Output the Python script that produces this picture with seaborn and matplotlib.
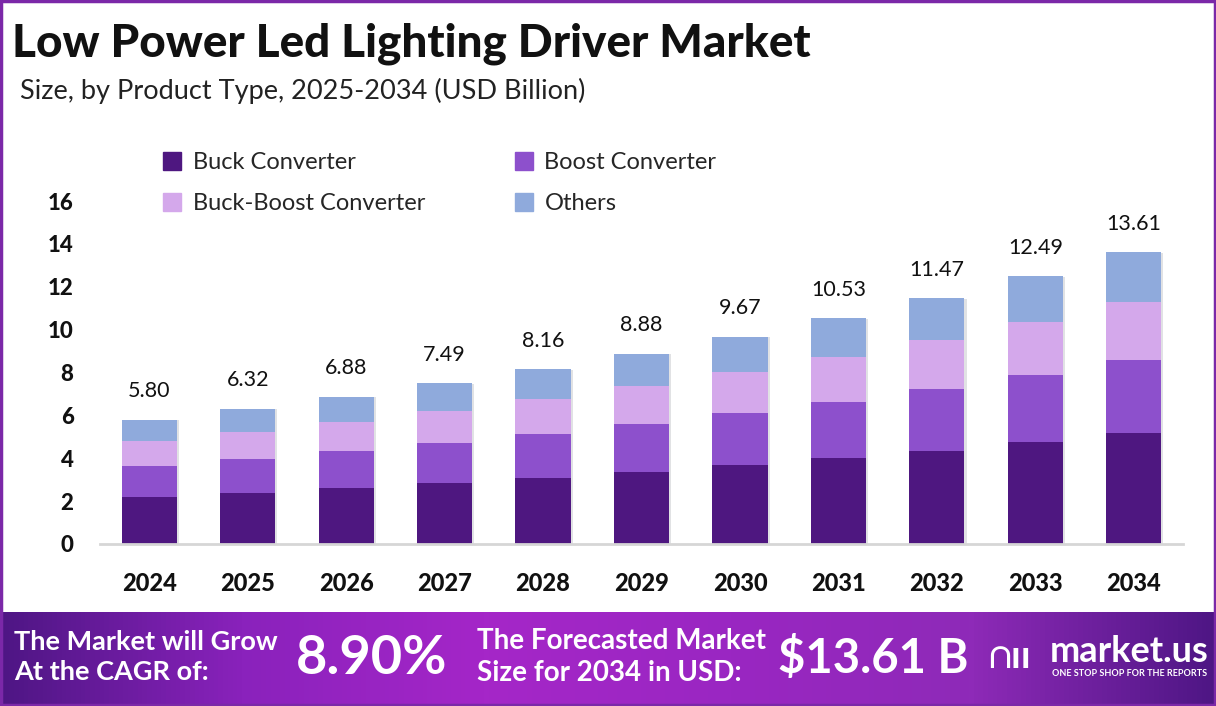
import numpy as np
import pandas as pd
import matplotlib
matplotlib.use("Agg")
import matplotlib.pyplot as plt
import matplotlib.patheffects as pe
from matplotlib.colors import LinearSegmentedColormap
from matplotlib.patches import Rectangle
import seaborn as sns

years = ["2024", "2025", "2026", "2027", "2028", "2029", "2030", "2031", "2032", "2033", "2034"]
totals = [5.80, 6.32, 6.88, 7.49, 8.16, 8.88, 9.67, 10.53, 11.47, 12.49, 13.61]
buck = [2.20, 2.40, 2.61, 2.85, 3.10, 3.37, 3.67, 4.00, 4.36, 4.75, 5.17]
boost = [1.45, 1.58, 1.72, 1.87, 2.04, 2.22, 2.42, 2.63, 2.87, 3.12, 3.40]
buck_boost = [1.16, 1.26, 1.38, 1.50, 1.63, 1.78, 1.93, 2.11, 2.29, 2.50, 2.72]
others = [0.99, 1.08, 1.17, 1.27, 1.39, 1.51, 1.65, 1.79, 1.95, 2.12, 2.32]

segments = ["Buck Converter", "Boost Converter", "Buck-Boost Converter", "Others"]
colors = ["#4E1780", "#8D50CC", "#D4A8EB", "#8FAADC"]

sns.set_theme(style="white")
plt.rcParams["font.family"] = ["Lato", "DejaVu Sans"]

df = pd.DataFrame({"year": years, "Buck Converter": buck, "Boost Converter": boost,
                   "Buck-Boost Converter": buck_boost, "Others": others})
cum = df[segments].cumsum(axis=1)

fig = plt.figure(figsize=(12.16, 7.06), dpi=100)
ax = fig.add_axes([100 / 1216, 1 - 544 / 706, 1083 / 1216, 343 / 706])

handles = {}
# draw cumulative heights from the top layer down so the stack shows
for i in range(len(segments) - 1, -1, -1):
    seg = segments[i]
    sns.barplot(x=df["year"], y=cum[seg], color=colors[i], width=0.56,
                saturation=1, ax=ax, zorder=2)
    bars = ax.patches[-len(years):]
    for b in bars:
        b.set_edgecolor("none")
        if i == len(segments) - 1:
            b.set_path_effects([pe.SimplePatchShadow(offset=(1.5, -0.5), alpha=0.14), pe.Normal()])
    handles[seg] = Rectangle((0, 0), 1, 1, color=colors[i])

for x, t in enumerate(totals):
    ax.text(x, t + 0.85, f"{t:.2f}", ha="center", va="bottom", fontsize=15.5, color="#111111")

ax.set_xlim(-0.5, 10.5)
ax.set_ylim(0, 16)
ax.set_yticks(range(0, 17, 2))
ax.set_xlabel("")
ax.set_ylabel("")
for s in ["top", "right", "left"]:
    ax.spines[s].set_visible(False)
ax.spines["bottom"].set_color("#D6D6D6")
ax.spines["bottom"].set_linewidth(2)
ax.tick_params(axis="y", length=0, pad=19, labelsize=16)
ax.tick_params(axis="x", length=0, pad=20, labelsize=17)
for lab in ax.get_xticklabels() + ax.get_yticklabels():
    lab.set_fontweight("black")
    lab.set_color("#111111")

order = ["Buck Converter", "Buck-Boost Converter", "Boost Converter", "Others"]
fig.legend([handles[k] for k in order], order, ncol=2, loc="upper left",
           bbox_to_anchor=(142 / 1216, 1 - 131 / 706), frameon=False, fontsize=17,
           handlelength=0.75, handleheight=0.75, handletextpad=0.5,
           columnspacing=3.8, labelspacing=0.85)

fig.text(12 / 1216, 1 - 44 / 706, "Low Power Led Lighting Driver Market", fontsize=33,
         fontweight="black", va="center", ha="left", color="#111111")
fig.text(20 / 1216, 1 - 91 / 706, "Size, by Product Type, 2025-2034 (USD Billion)", fontsize=19.5,
         va="center", ha="left", color="#222222")

# bottom banner with purple gradient
bax = fig.add_axes([0, 0, 1, 94 / 706])
cmap = LinearSegmentedColormap.from_list("banner", ["#4E1684", "#8A22BC", "#A526C8", "#9A26C2", "#8E2AB8", "#4E1684"])
bax.imshow(np.linspace(0, 1, 256).reshape(1, -1), aspect="auto", cmap=cmap, extent=(0, 1, 0, 1))
bax.set_axis_off()

bold = dict(color="white", fontweight="bold", va="center", ha="left")
fig.text(14 / 1216, 1 - 657 / 706, "The Market will Grow\nAt the CAGR of:", fontsize=19.5, linespacing=1.3, **bold)
fig.text(296 / 1216, 1 - 658 / 706, "8.90%", fontsize=39, **bold)
fig.text(477 / 1216, 1 - 657 / 706, "The Forecasted Market\nSize for 2034 in USD:", fontsize=20, linespacing=1.3, **bold)
fig.text(778 / 1216, 1 - 658 / 706, "$13.61 B", fontsize=34, **bold)
fig.text(988 / 1216, 1 - 656 / 706, "\u2229\u0131\u0131", fontsize=28, **bold)
fig.text(1050 / 1216, 1 - 651 / 706, "market.us", fontsize=26, **bold)
fig.text(1052 / 1216, 1 - 674 / 706, "ONE STOP SHOP FOR THE REPORTS", fontsize=6.5, **bold)

# thin purple frame round the chart
fig.patches.append(Rectangle((0.001, 0.001), 0.998, 0.997, transform=fig.transFigure,
                             fill=False, edgecolor="#7B28A8", linewidth=2.5, zorder=10))

fig.savefig("out.png", dpi=100)
